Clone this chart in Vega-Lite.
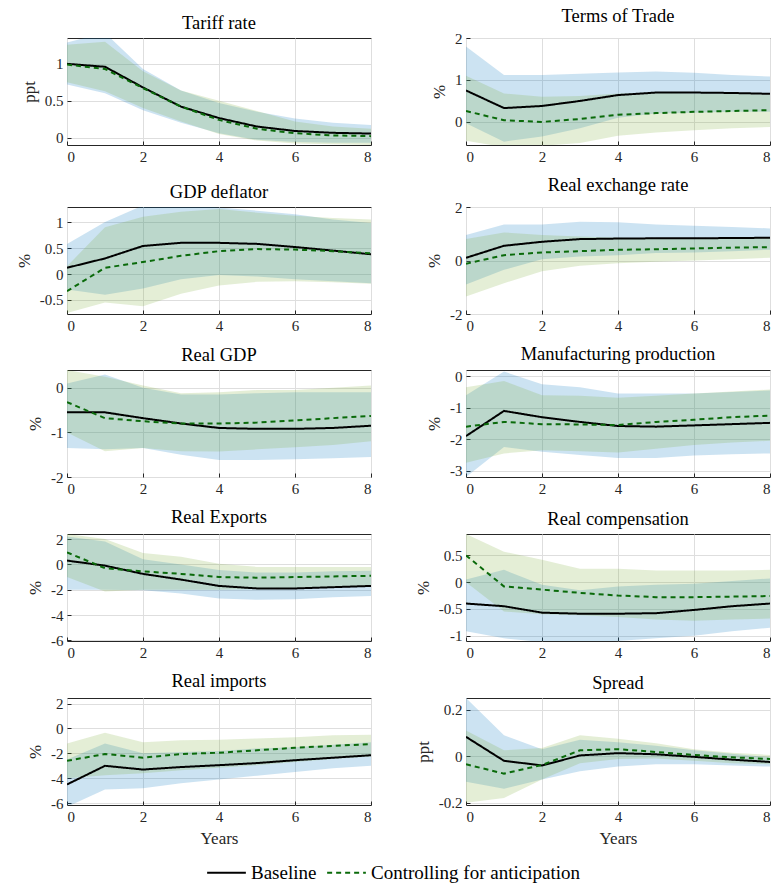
{
"$schema": "https://vega.github.io/schema/vega-lite/v6.json",
"padding": {"left": 14, "top": 6, "right": 5, "bottom": 5},
"columns": 2,
"spacing": {"row": 10, "column": 41},
"datasets": {"irf": [
{"p":"tariff","x":0,"Baseline":1.0,"Controlling for anticipation":0.99,"blo":0.72,"bhi":1.29,"glo":0.75,"ghi":1.26},
{"p":"tariff","x":1,"Baseline":0.96,"Controlling for anticipation":0.93,"blo":0.6,"bhi":1.42,"glo":0.63,"ghi":1.3},
{"p":"tariff","x":2,"Baseline":0.68,"Controlling for anticipation":0.67,"blo":0.37,"bhi":0.93,"glo":0.4,"ghi":0.9},
{"p":"tariff","x":3,"Baseline":0.42,"Controlling for anticipation":0.42,"blo":0.2,"bhi":0.64,"glo":0.22,"ghi":0.64},
{"p":"tariff","x":4,"Baseline":0.265,"Controlling for anticipation":0.24,"blo":0.06,"bhi":0.47,"glo":0.05,"ghi":0.5},
{"p":"tariff","x":5,"Baseline":0.15,"Controlling for anticipation":0.12,"blo":-0.03,"bhi":0.35,"glo":-0.04,"ghi":0.36},
{"p":"tariff","x":6,"Baseline":0.09,"Controlling for anticipation":0.06,"blo":-0.06,"bhi":0.26,"glo":-0.08,"ghi":0.22},
{"p":"tariff","x":7,"Baseline":0.065,"Controlling for anticipation":0.03,"blo":-0.07,"bhi":0.2,"glo":-0.09,"ghi":0.15},
{"p":"tariff","x":8,"Baseline":0.055,"Controlling for anticipation":0.02,"blo":-0.07,"bhi":0.17,"glo":-0.1,"ghi":0.12},
{"p":"tot","x":0,"Baseline":0.75,"Controlling for anticipation":0.26,"blo":-0.03,"bhi":1.8,"glo":-0.45,"ghi":1.1},
{"p":"tot","x":1,"Baseline":0.33,"Controlling for anticipation":0.04,"blo":-0.47,"bhi":1.12,"glo":-0.6,"ghi":0.68},
{"p":"tot","x":2,"Baseline":0.38,"Controlling for anticipation":0.0,"blo":-0.35,"bhi":1.12,"glo":-0.57,"ghi":0.6},
{"p":"tot","x":3,"Baseline":0.5,"Controlling for anticipation":0.07,"blo":-0.15,"bhi":1.15,"glo":-0.5,"ghi":0.62},
{"p":"tot","x":4,"Baseline":0.64,"Controlling for anticipation":0.17,"blo":0.1,"bhi":1.18,"glo":-0.33,"ghi":0.68},
{"p":"tot","x":5,"Baseline":0.7,"Controlling for anticipation":0.21,"blo":0.2,"bhi":1.2,"glo":-0.25,"ghi":0.7},
{"p":"tot","x":6,"Baseline":0.7,"Controlling for anticipation":0.24,"blo":0.22,"bhi":1.17,"glo":-0.2,"ghi":0.68},
{"p":"tot","x":7,"Baseline":0.69,"Controlling for anticipation":0.26,"blo":0.24,"bhi":1.12,"glo":-0.15,"ghi":0.67},
{"p":"tot","x":8,"Baseline":0.67,"Controlling for anticipation":0.28,"blo":0.24,"bhi":1.08,"glo":-0.12,"ghi":0.66},
{"p":"defl","x":0,"Baseline":0.12,"Controlling for anticipation":-0.33,"blo":-0.3,"bhi":0.58,"glo":-0.75,"ghi":0.15},
{"p":"defl","x":1,"Baseline":0.3,"Controlling for anticipation":0.12,"blo":-0.4,"bhi":1.0,"glo":-0.55,"ghi":0.9},
{"p":"defl","x":2,"Baseline":0.54,"Controlling for anticipation":0.23,"blo":-0.28,"bhi":1.32,"glo":-0.62,"ghi":1.1},
{"p":"defl","x":3,"Baseline":0.6,"Controlling for anticipation":0.35,"blo":-0.1,"bhi":1.35,"glo":-0.38,"ghi":1.2},
{"p":"defl","x":4,"Baseline":0.6,"Controlling for anticipation":0.44,"blo":-0.02,"bhi":1.28,"glo":-0.22,"ghi":1.25},
{"p":"defl","x":5,"Baseline":0.58,"Controlling for anticipation":0.48,"blo":-0.05,"bhi":1.22,"glo":-0.15,"ghi":1.18},
{"p":"defl","x":6,"Baseline":0.52,"Controlling for anticipation":0.47,"blo":-0.1,"bhi":1.15,"glo":-0.14,"ghi":1.12},
{"p":"defl","x":7,"Baseline":0.45,"Controlling for anticipation":0.44,"blo":-0.14,"bhi":1.05,"glo":-0.16,"ghi":1.08},
{"p":"defl","x":8,"Baseline":0.38,"Controlling for anticipation":0.4,"blo":-0.18,"bhi":0.98,"glo":-0.19,"ghi":1.05},
{"p":"rer","x":0,"Baseline":0.1,"Controlling for anticipation":-0.12,"blo":-0.9,"bhi":0.95,"glo":-1.35,"ghi":0.8},
{"p":"rer","x":1,"Baseline":0.55,"Controlling for anticipation":0.2,"blo":-0.35,"bhi":1.35,"glo":-0.85,"ghi":1.05},
{"p":"rer","x":2,"Baseline":0.7,"Controlling for anticipation":0.3,"blo":0.05,"bhi":1.35,"glo":-0.4,"ghi":0.95},
{"p":"rer","x":3,"Baseline":0.8,"Controlling for anticipation":0.35,"blo":0.15,"bhi":1.45,"glo":-0.2,"ghi":0.9},
{"p":"rer","x":4,"Baseline":0.82,"Controlling for anticipation":0.4,"blo":0.2,"bhi":1.43,"glo":-0.1,"ghi":0.85},
{"p":"rer","x":5,"Baseline":0.83,"Controlling for anticipation":0.42,"blo":0.28,"bhi":1.35,"glo":-0.05,"ghi":0.82},
{"p":"rer","x":6,"Baseline":0.83,"Controlling for anticipation":0.45,"blo":0.3,"bhi":1.3,"glo":0.0,"ghi":0.82},
{"p":"rer","x":7,"Baseline":0.84,"Controlling for anticipation":0.48,"blo":0.35,"bhi":1.25,"glo":0.05,"ghi":0.83},
{"p":"rer","x":8,"Baseline":0.85,"Controlling for anticipation":0.5,"blo":0.4,"bhi":1.2,"glo":0.1,"ghi":0.85},
{"p":"gdp","x":0,"Baseline":-0.55,"Controlling for anticipation":-0.32,"blo":-1.35,"bhi":0.1,"glo":-1.0,"ghi":0.4},
{"p":"gdp","x":1,"Baseline":-0.55,"Controlling for anticipation":-0.68,"blo":-1.38,"bhi":0.3,"glo":-1.42,"ghi":0.25},
{"p":"gdp","x":2,"Baseline":-0.68,"Controlling for anticipation":-0.75,"blo":-1.35,"bhi":0.0,"glo":-1.35,"ghi":0.05},
{"p":"gdp","x":3,"Baseline":-0.8,"Controlling for anticipation":-0.8,"blo":-1.5,"bhi":-0.15,"glo":-1.42,"ghi":-0.12},
{"p":"gdp","x":4,"Baseline":-0.9,"Controlling for anticipation":-0.8,"blo":-1.62,"bhi":-0.15,"glo":-1.43,"ghi":-0.1},
{"p":"gdp","x":5,"Baseline":-0.92,"Controlling for anticipation":-0.78,"blo":-1.62,"bhi":-0.12,"glo":-1.38,"ghi":-0.05},
{"p":"gdp","x":6,"Baseline":-0.92,"Controlling for anticipation":-0.73,"blo":-1.6,"bhi":-0.1,"glo":-1.33,"ghi":-0.05},
{"p":"gdp","x":7,"Baseline":-0.9,"Controlling for anticipation":-0.68,"blo":-1.58,"bhi":-0.1,"glo":-1.28,"ghi":0.0},
{"p":"gdp","x":8,"Baseline":-0.85,"Controlling for anticipation":-0.63,"blo":-1.55,"bhi":-0.1,"glo":-1.2,"ghi":0.05},
{"p":"manuf","x":0,"Baseline":-1.9,"Controlling for anticipation":-1.6,"blo":-3.2,"bhi":-0.6,"glo":-2.75,"ghi":-0.35},
{"p":"manuf","x":1,"Baseline":-1.1,"Controlling for anticipation":-1.45,"blo":-2.25,"bhi":0.15,"glo":-2.45,"ghi":-0.15},
{"p":"manuf","x":2,"Baseline":-1.3,"Controlling for anticipation":-1.52,"blo":-2.4,"bhi":-0.25,"glo":-2.35,"ghi":-0.6},
{"p":"manuf","x":3,"Baseline":-1.45,"Controlling for anticipation":-1.53,"blo":-2.5,"bhi":-0.35,"glo":-2.38,"ghi":-0.62},
{"p":"manuf","x":4,"Baseline":-1.58,"Controlling for anticipation":-1.55,"blo":-2.6,"bhi":-0.55,"glo":-2.42,"ghi":-0.68},
{"p":"manuf","x":5,"Baseline":-1.6,"Controlling for anticipation":-1.45,"blo":-2.6,"bhi":-0.55,"glo":-2.3,"ghi":-0.62},
{"p":"manuf","x":6,"Baseline":-1.56,"Controlling for anticipation":-1.38,"blo":-2.52,"bhi":-0.55,"glo":-2.18,"ghi":-0.55},
{"p":"manuf","x":7,"Baseline":-1.52,"Controlling for anticipation":-1.3,"blo":-2.48,"bhi":-0.5,"glo":-2.1,"ghi":-0.48},
{"p":"manuf","x":8,"Baseline":-1.48,"Controlling for anticipation":-1.25,"blo":-2.45,"bhi":-0.45,"glo":-2.05,"ghi":-0.42},
{"p":"exports","x":0,"Baseline":0.3,"Controlling for anticipation":0.95,"blo":-2.0,"bhi":2.2,"glo":-1.0,"ghi":2.4},
{"p":"exports","x":1,"Baseline":-0.1,"Controlling for anticipation":-0.3,"blo":-2.0,"bhi":1.8,"glo":-2.15,"ghi":2.0},
{"p":"exports","x":2,"Baseline":-0.75,"Controlling for anticipation":-0.55,"blo":-2.05,"bhi":0.4,"glo":-2.0,"ghi":0.9},
{"p":"exports","x":3,"Baseline":-1.2,"Controlling for anticipation":-0.75,"blo":-2.3,"bhi":0.0,"glo":-2.0,"ghi":0.6},
{"p":"exports","x":4,"Baseline":-1.7,"Controlling for anticipation":-1.0,"blo":-2.7,"bhi":-0.45,"glo":-2.0,"ghi":0.05},
{"p":"exports","x":5,"Baseline":-1.9,"Controlling for anticipation":-1.05,"blo":-2.8,"bhi":-0.65,"glo":-1.95,"ghi":-0.2},
{"p":"exports","x":6,"Baseline":-1.9,"Controlling for anticipation":-1.0,"blo":-2.75,"bhi":-0.65,"glo":-1.9,"ghi":-0.2},
{"p":"exports","x":7,"Baseline":-1.8,"Controlling for anticipation":-0.95,"blo":-2.6,"bhi":-0.55,"glo":-1.8,"ghi":-0.2},
{"p":"exports","x":8,"Baseline":-1.7,"Controlling for anticipation":-0.9,"blo":-2.5,"bhi":-0.5,"glo":-1.7,"ghi":-0.2},
{"p":"comp","x":0,"Baseline":-0.4,"Controlling for anticipation":0.5,"blo":-0.92,"bhi":0.05,"glo":0.0,"ghi":0.9},
{"p":"comp","x":1,"Baseline":-0.45,"Controlling for anticipation":-0.08,"blo":-1.05,"bhi":0.23,"glo":-0.55,"ghi":0.57},
{"p":"comp","x":2,"Baseline":-0.57,"Controlling for anticipation":-0.14,"blo":-1.12,"bhi":-0.05,"glo":-0.6,"ghi":0.42},
{"p":"comp","x":3,"Baseline":-0.59,"Controlling for anticipation":-0.2,"blo":-1.12,"bhi":-0.15,"glo":-0.62,"ghi":0.25},
{"p":"comp","x":4,"Baseline":-0.59,"Controlling for anticipation":-0.25,"blo":-1.1,"bhi":-0.08,"glo":-0.65,"ghi":0.25},
{"p":"comp","x":5,"Baseline":-0.58,"Controlling for anticipation":-0.28,"blo":-1.05,"bhi":-0.05,"glo":-0.7,"ghi":0.22},
{"p":"comp","x":6,"Baseline":-0.52,"Controlling for anticipation":-0.28,"blo":-1.0,"bhi":-0.03,"glo":-0.72,"ghi":0.22},
{"p":"comp","x":7,"Baseline":-0.45,"Controlling for anticipation":-0.27,"blo":-0.92,"bhi":0.02,"glo":-0.7,"ghi":0.22},
{"p":"comp","x":8,"Baseline":-0.4,"Controlling for anticipation":-0.26,"blo":-0.85,"bhi":0.07,"glo":-0.68,"ghi":0.23},
{"p":"imports","x":0,"Baseline":-4.5,"Controlling for anticipation":-2.6,"blo":-6.3,"bhi":-2.5,"glo":-4.0,"ghi":-1.2},
{"p":"imports","x":1,"Baseline":-3.0,"Controlling for anticipation":-2.05,"blo":-4.9,"bhi":-1.2,"glo":-3.75,"ghi":-0.35},
{"p":"imports","x":2,"Baseline":-3.3,"Controlling for anticipation":-2.35,"blo":-4.8,"bhi":-2.0,"glo":-3.6,"ghi":-1.1},
{"p":"imports","x":3,"Baseline":-3.1,"Controlling for anticipation":-2.05,"blo":-4.4,"bhi":-1.9,"glo":-3.35,"ghi":-0.95},
{"p":"imports","x":4,"Baseline":-2.95,"Controlling for anticipation":-1.95,"blo":-4.1,"bhi":-1.8,"glo":-3.15,"ghi":-0.9},
{"p":"imports","x":5,"Baseline":-2.78,"Controlling for anticipation":-1.75,"blo":-3.8,"bhi":-1.6,"glo":-2.95,"ghi":-0.8},
{"p":"imports","x":6,"Baseline":-2.55,"Controlling for anticipation":-1.55,"blo":-3.5,"bhi":-1.5,"glo":-2.7,"ghi":-0.7},
{"p":"imports","x":7,"Baseline":-2.35,"Controlling for anticipation":-1.4,"blo":-3.2,"bhi":-1.3,"glo":-2.45,"ghi":-0.55},
{"p":"imports","x":8,"Baseline":-2.15,"Controlling for anticipation":-1.25,"blo":-3.0,"bhi":-1.1,"glo":-2.25,"ghi":-0.5},
{"p":"spread","x":0,"Baseline":0.083,"Controlling for anticipation":-0.035,"blo":-0.11,"bhi":0.25,"glo":-0.2,"ghi":0.11},
{"p":"spread","x":1,"Baseline":-0.02,"Controlling for anticipation":-0.075,"blo":-0.14,"bhi":0.09,"glo":-0.18,"ghi":0.025},
{"p":"spread","x":2,"Baseline":-0.04,"Controlling for anticipation":-0.038,"blo":-0.1,"bhi":0.03,"glo":-0.1,"ghi":0.035},
{"p":"spread","x":3,"Baseline":0.003,"Controlling for anticipation":0.025,"blo":-0.065,"bhi":0.07,"glo":-0.03,"ghi":0.09},
{"p":"spread","x":4,"Baseline":0.013,"Controlling for anticipation":0.03,"blo":-0.045,"bhi":0.06,"glo":-0.012,"ghi":0.075},
{"p":"spread","x":5,"Baseline":0.008,"Controlling for anticipation":0.018,"blo":-0.035,"bhi":0.045,"glo":-0.01,"ghi":0.055},
{"p":"spread","x":6,"Baseline":-0.003,"Controlling for anticipation":0.005,"blo":-0.035,"bhi":0.025,"glo":-0.02,"ghi":0.03},
{"p":"spread","x":7,"Baseline":-0.015,"Controlling for anticipation":-0.005,"blo":-0.04,"bhi":0.01,"glo":-0.03,"ghi":0.015},
{"p":"spread","x":8,"Baseline":-0.025,"Controlling for anticipation":-0.012,"blo":-0.045,"bhi":-0.005,"glo":-0.035,"ghi":0.005}
]},
"concat": [
{"title":"Tariff rate","width":304,"height":107,"data":{"name":"irf"},"transform":[{"filter":"datum.p == 'tariff'"}],
 "encoding":{"x":{"field":"x","type":"quantitative","scale":{"domain":[0,8]},"axis":{"values":[0,2,4,6,8],"title":null}}},
 "layer":[
  {"mark":{"type":"area","color":"#0072bd","opacity":0.2,"clip":true},"encoding":{"y":{"field":"blo","type":"quantitative","scale":{"domain":[-0.1,1.35],"nice":false,"zero":false},"axis":{"values":[0,0.5,1],"title":"ppt"}},"y2":{"field":"bhi"}}},
  {"mark":{"type":"area","color":"#77ac30","opacity":0.2,"clip":true},"encoding":{"y":{"field":"glo","type":"quantitative","scale":{"domain":[-0.1,1.35],"nice":false,"zero":false},"axis":{"values":[0,0.5,1],"title":"ppt"}},"y2":{"field":"ghi"}}},
  {"mark":{"type":"rule","color":"#000","strokeWidth":1},"encoding":{"y":{"datum":0,"type":"quantitative","scale":{"domain":[-0.1,1.35],"nice":false,"zero":false},"axis":{"values":[0,0.5,1],"title":"ppt"}}}},
  {"transform":[{"fold":["Baseline","Controlling for anticipation"],"as":["series","val"]}],"mark":{"type":"line","strokeWidth":2,"clip":true},"encoding":{"y":{"field":"val","type":"quantitative","scale":{"domain":[-0.1,1.35],"nice":false,"zero":false},"axis":{"values":[0,0.5,1],"title":"ppt"}},
   "color":{"field":"series","type":"nominal","scale":{"domain":["Baseline","Controlling for anticipation"],"range":["#000000","#0a6a0a"]},"legend":{"title":null,"orient":"none","legendX":139,"legendY":814,"direction":"horizontal","symbolType":"stroke","symbolSize":1500,"symbolStrokeWidth":2,"labelFontSize":19,"labelFont":"Liberation Serif","labelLimit":500,"labelColor":"#000","columnPadding":6,"labelOffset":4}},
   "strokeDash":{"field":"series","type":"nominal","scale":{"domain":["Baseline","Controlling for anticipation"],"range":[[1,0],[5,4]]},"legend":{"title":null,"orient":"none","legendX":139,"legendY":814,"direction":"horizontal","symbolType":"stroke","symbolSize":1500,"symbolStrokeWidth":2,"labelFontSize":19,"labelFont":"Liberation Serif","labelLimit":500,"labelColor":"#000","columnPadding":6,"labelOffset":4}}}}
 ]},
{"title":"Terms of Trade","width":304,"height":107,"data":{"name":"irf"},"transform":[{"filter":"datum.p == 'tot'"}],
 "encoding":{"x":{"field":"x","type":"quantitative","scale":{"domain":[0,8]},"axis":{"values":[0,2,4,6,8],"title":null}}},
 "layer":[
  {"mark":{"type":"area","color":"#0072bd","opacity":0.2,"clip":true},"encoding":{"y":{"field":"blo","type":"quantitative","scale":{"domain":[-0.55,2],"nice":false,"zero":false},"axis":{"values":[0,1,2],"title":"%"}},"y2":{"field":"bhi"}}},
  {"mark":{"type":"area","color":"#77ac30","opacity":0.2,"clip":true},"encoding":{"y":{"field":"glo","type":"quantitative","scale":{"domain":[-0.55,2],"nice":false,"zero":false},"axis":{"values":[0,1,2],"title":"%"}},"y2":{"field":"ghi"}}},
  {"mark":{"type":"rule","color":"#000","strokeWidth":1},"encoding":{"y":{"datum":0,"type":"quantitative","scale":{"domain":[-0.55,2],"nice":false,"zero":false},"axis":{"values":[0,1,2],"title":"%"}}}},
  {"transform":[{"fold":["Baseline","Controlling for anticipation"],"as":["series","val"]}],"mark":{"type":"line","strokeWidth":2,"clip":true},"encoding":{"y":{"field":"val","type":"quantitative","scale":{"domain":[-0.55,2],"nice":false,"zero":false},"axis":{"values":[0,1,2],"title":"%"}},
   "color":{"field":"series","type":"nominal","scale":{"domain":["Baseline","Controlling for anticipation"],"range":["#000000","#0a6a0a"]}},
   "strokeDash":{"field":"series","type":"nominal","scale":{"domain":["Baseline","Controlling for anticipation"],"range":[[1,0],[5,4]]}}}}
 ]},
{"title":"GDP deflator","width":304,"height":107,"data":{"name":"irf"},"transform":[{"filter":"datum.p == 'defl'"}],
 "encoding":{"x":{"field":"x","type":"quantitative","scale":{"domain":[0,8]},"axis":{"values":[0,2,4,6,8],"title":null}}},
 "layer":[
  {"mark":{"type":"area","color":"#0072bd","opacity":0.2,"clip":true},"encoding":{"y":{"field":"blo","type":"quantitative","scale":{"domain":[-0.77,1.29],"nice":false,"zero":false},"axis":{"values":[-0.5,0,0.5,1],"title":"%"}},"y2":{"field":"bhi"}}},
  {"mark":{"type":"area","color":"#77ac30","opacity":0.2,"clip":true},"encoding":{"y":{"field":"glo","type":"quantitative","scale":{"domain":[-0.77,1.29],"nice":false,"zero":false},"axis":{"values":[-0.5,0,0.5,1],"title":"%"}},"y2":{"field":"ghi"}}},
  {"mark":{"type":"rule","color":"#000","strokeWidth":1},"encoding":{"y":{"datum":0,"type":"quantitative","scale":{"domain":[-0.77,1.29],"nice":false,"zero":false},"axis":{"values":[-0.5,0,0.5,1],"title":"%"}}}},
  {"transform":[{"fold":["Baseline","Controlling for anticipation"],"as":["series","val"]}],"mark":{"type":"line","strokeWidth":2,"clip":true},"encoding":{"y":{"field":"val","type":"quantitative","scale":{"domain":[-0.77,1.29],"nice":false,"zero":false},"axis":{"values":[-0.5,0,0.5,1],"title":"%"}},
   "color":{"field":"series","type":"nominal","scale":{"domain":["Baseline","Controlling for anticipation"],"range":["#000000","#0a6a0a"]}},
   "strokeDash":{"field":"series","type":"nominal","scale":{"domain":["Baseline","Controlling for anticipation"],"range":[[1,0],[5,4]]}}}}
 ]},
{"title":"Real exchange rate","width":304,"height":107,"data":{"name":"irf"},"transform":[{"filter":"datum.p == 'rer'"}],
 "encoding":{"x":{"field":"x","type":"quantitative","scale":{"domain":[0,8]},"axis":{"values":[0,2,4,6,8],"title":null}}},
 "layer":[
  {"mark":{"type":"area","color":"#0072bd","opacity":0.2,"clip":true},"encoding":{"y":{"field":"blo","type":"quantitative","scale":{"domain":[-2,2],"nice":false,"zero":false},"axis":{"values":[-2,0,2],"title":"%"}},"y2":{"field":"bhi"}}},
  {"mark":{"type":"area","color":"#77ac30","opacity":0.2,"clip":true},"encoding":{"y":{"field":"glo","type":"quantitative","scale":{"domain":[-2,2],"nice":false,"zero":false},"axis":{"values":[-2,0,2],"title":"%"}},"y2":{"field":"ghi"}}},
  {"mark":{"type":"rule","color":"#000","strokeWidth":1},"encoding":{"y":{"datum":0,"type":"quantitative","scale":{"domain":[-2,2],"nice":false,"zero":false},"axis":{"values":[-2,0,2],"title":"%"}}}},
  {"transform":[{"fold":["Baseline","Controlling for anticipation"],"as":["series","val"]}],"mark":{"type":"line","strokeWidth":2,"clip":true},"encoding":{"y":{"field":"val","type":"quantitative","scale":{"domain":[-2,2],"nice":false,"zero":false},"axis":{"values":[-2,0,2],"title":"%"}},
   "color":{"field":"series","type":"nominal","scale":{"domain":["Baseline","Controlling for anticipation"],"range":["#000000","#0a6a0a"]}},
   "strokeDash":{"field":"series","type":"nominal","scale":{"domain":["Baseline","Controlling for anticipation"],"range":[[1,0],[5,4]]}}}}
 ]},
{"title":"Real GDP","width":304,"height":107,"data":{"name":"irf"},"transform":[{"filter":"datum.p == 'gdp'"}],
 "encoding":{"x":{"field":"x","type":"quantitative","scale":{"domain":[0,8]},"axis":{"values":[0,2,4,6,8],"title":null}}},
 "layer":[
  {"mark":{"type":"area","color":"#0072bd","opacity":0.2,"clip":true},"encoding":{"y":{"field":"blo","type":"quantitative","scale":{"domain":[-2,0.4],"nice":false,"zero":false},"axis":{"values":[-2,-1,0],"title":"%"}},"y2":{"field":"bhi"}}},
  {"mark":{"type":"area","color":"#77ac30","opacity":0.2,"clip":true},"encoding":{"y":{"field":"glo","type":"quantitative","scale":{"domain":[-2,0.4],"nice":false,"zero":false},"axis":{"values":[-2,-1,0],"title":"%"}},"y2":{"field":"ghi"}}},
  {"mark":{"type":"rule","color":"#000","strokeWidth":1},"encoding":{"y":{"datum":0,"type":"quantitative","scale":{"domain":[-2,0.4],"nice":false,"zero":false},"axis":{"values":[-2,-1,0],"title":"%"}}}},
  {"transform":[{"fold":["Baseline","Controlling for anticipation"],"as":["series","val"]}],"mark":{"type":"line","strokeWidth":2,"clip":true},"encoding":{"y":{"field":"val","type":"quantitative","scale":{"domain":[-2,0.4],"nice":false,"zero":false},"axis":{"values":[-2,-1,0],"title":"%"}},
   "color":{"field":"series","type":"nominal","scale":{"domain":["Baseline","Controlling for anticipation"],"range":["#000000","#0a6a0a"]}},
   "strokeDash":{"field":"series","type":"nominal","scale":{"domain":["Baseline","Controlling for anticipation"],"range":[[1,0],[5,4]]}}}}
 ]},
{"title":"Manufacturing production","width":304,"height":107,"data":{"name":"irf"},"transform":[{"filter":"datum.p == 'manuf'"}],
 "encoding":{"x":{"field":"x","type":"quantitative","scale":{"domain":[0,8]},"axis":{"values":[0,2,4,6,8],"title":null}}},
 "layer":[
  {"mark":{"type":"area","color":"#0072bd","opacity":0.2,"clip":true},"encoding":{"y":{"field":"blo","type":"quantitative","scale":{"domain":[-3.2,0.2],"nice":false,"zero":false},"axis":{"values":[-3,-2,-1,0],"title":"%"}},"y2":{"field":"bhi"}}},
  {"mark":{"type":"area","color":"#77ac30","opacity":0.2,"clip":true},"encoding":{"y":{"field":"glo","type":"quantitative","scale":{"domain":[-3.2,0.2],"nice":false,"zero":false},"axis":{"values":[-3,-2,-1,0],"title":"%"}},"y2":{"field":"ghi"}}},
  {"mark":{"type":"rule","color":"#000","strokeWidth":1},"encoding":{"y":{"datum":0,"type":"quantitative","scale":{"domain":[-3.2,0.2],"nice":false,"zero":false},"axis":{"values":[-3,-2,-1,0],"title":"%"}}}},
  {"transform":[{"fold":["Baseline","Controlling for anticipation"],"as":["series","val"]}],"mark":{"type":"line","strokeWidth":2,"clip":true},"encoding":{"y":{"field":"val","type":"quantitative","scale":{"domain":[-3.2,0.2],"nice":false,"zero":false},"axis":{"values":[-3,-2,-1,0],"title":"%"}},
   "color":{"field":"series","type":"nominal","scale":{"domain":["Baseline","Controlling for anticipation"],"range":["#000000","#0a6a0a"]}},
   "strokeDash":{"field":"series","type":"nominal","scale":{"domain":["Baseline","Controlling for anticipation"],"range":[[1,0],[5,4]]}}}}
 ]},
{"title":"Real Exports","width":304,"height":107,"data":{"name":"irf"},"transform":[{"filter":"datum.p == 'exports'"}],
 "encoding":{"x":{"field":"x","type":"quantitative","scale":{"domain":[0,8]},"axis":{"values":[0,2,4,6,8],"title":null}}},
 "layer":[
  {"mark":{"type":"area","color":"#0072bd","opacity":0.2,"clip":true},"encoding":{"y":{"field":"blo","type":"quantitative","scale":{"domain":[-6.05,2.4],"nice":false,"zero":false},"axis":{"values":[-6,-4,-2,0,2],"title":"%"}},"y2":{"field":"bhi"}}},
  {"mark":{"type":"area","color":"#77ac30","opacity":0.2,"clip":true},"encoding":{"y":{"field":"glo","type":"quantitative","scale":{"domain":[-6.05,2.4],"nice":false,"zero":false},"axis":{"values":[-6,-4,-2,0,2],"title":"%"}},"y2":{"field":"ghi"}}},
  {"mark":{"type":"rule","color":"#000","strokeWidth":1},"encoding":{"y":{"datum":0,"type":"quantitative","scale":{"domain":[-6.05,2.4],"nice":false,"zero":false},"axis":{"values":[-6,-4,-2,0,2],"title":"%"}}}},
  {"transform":[{"fold":["Baseline","Controlling for anticipation"],"as":["series","val"]}],"mark":{"type":"line","strokeWidth":2,"clip":true},"encoding":{"y":{"field":"val","type":"quantitative","scale":{"domain":[-6.05,2.4],"nice":false,"zero":false},"axis":{"values":[-6,-4,-2,0,2],"title":"%"}},
   "color":{"field":"series","type":"nominal","scale":{"domain":["Baseline","Controlling for anticipation"],"range":["#000000","#0a6a0a"]}},
   "strokeDash":{"field":"series","type":"nominal","scale":{"domain":["Baseline","Controlling for anticipation"],"range":[[1,0],[5,4]]}}}}
 ]},
{"title":"Real compensation","width":304,"height":107,"data":{"name":"irf"},"transform":[{"filter":"datum.p == 'comp'"}],
 "encoding":{"x":{"field":"x","type":"quantitative","scale":{"domain":[0,8]},"axis":{"values":[0,2,4,6,8],"title":null}}},
 "layer":[
  {"mark":{"type":"area","color":"#0072bd","opacity":0.2,"clip":true},"encoding":{"y":{"field":"blo","type":"quantitative","scale":{"domain":[-1.1,0.9],"nice":false,"zero":false},"axis":{"values":[-1,-0.5,0,0.5],"title":"%"}},"y2":{"field":"bhi"}}},
  {"mark":{"type":"area","color":"#77ac30","opacity":0.2,"clip":true},"encoding":{"y":{"field":"glo","type":"quantitative","scale":{"domain":[-1.1,0.9],"nice":false,"zero":false},"axis":{"values":[-1,-0.5,0,0.5],"title":"%"}},"y2":{"field":"ghi"}}},
  {"mark":{"type":"rule","color":"#000","strokeWidth":1},"encoding":{"y":{"datum":0,"type":"quantitative","scale":{"domain":[-1.1,0.9],"nice":false,"zero":false},"axis":{"values":[-1,-0.5,0,0.5],"title":"%"}}}},
  {"transform":[{"fold":["Baseline","Controlling for anticipation"],"as":["series","val"]}],"mark":{"type":"line","strokeWidth":2,"clip":true},"encoding":{"y":{"field":"val","type":"quantitative","scale":{"domain":[-1.1,0.9],"nice":false,"zero":false},"axis":{"values":[-1,-0.5,0,0.5],"title":"%"}},
   "color":{"field":"series","type":"nominal","scale":{"domain":["Baseline","Controlling for anticipation"],"range":["#000000","#0a6a0a"]}},
   "strokeDash":{"field":"series","type":"nominal","scale":{"domain":["Baseline","Controlling for anticipation"],"range":[[1,0],[5,4]]}}}}
 ]},
{"title":"Real imports","width":304,"height":107,"data":{"name":"irf"},"transform":[{"filter":"datum.p == 'imports'"}],
 "encoding":{"x":{"field":"x","type":"quantitative","scale":{"domain":[0,8]},"axis":{"values":[0,2,4,6,8],"title":"Years"}}},
 "layer":[
  {"mark":{"type":"area","color":"#0072bd","opacity":0.2,"clip":true},"encoding":{"y":{"field":"blo","type":"quantitative","scale":{"domain":[-6.15,2.45],"nice":false,"zero":false},"axis":{"values":[-6,-4,-2,0,2],"title":"%"}},"y2":{"field":"bhi"}}},
  {"mark":{"type":"area","color":"#77ac30","opacity":0.2,"clip":true},"encoding":{"y":{"field":"glo","type":"quantitative","scale":{"domain":[-6.15,2.45],"nice":false,"zero":false},"axis":{"values":[-6,-4,-2,0,2],"title":"%"}},"y2":{"field":"ghi"}}},
  {"mark":{"type":"rule","color":"#000","strokeWidth":1},"encoding":{"y":{"datum":0,"type":"quantitative","scale":{"domain":[-6.15,2.45],"nice":false,"zero":false},"axis":{"values":[-6,-4,-2,0,2],"title":"%"}}}},
  {"transform":[{"fold":["Baseline","Controlling for anticipation"],"as":["series","val"]}],"mark":{"type":"line","strokeWidth":2,"clip":true},"encoding":{"y":{"field":"val","type":"quantitative","scale":{"domain":[-6.15,2.45],"nice":false,"zero":false},"axis":{"values":[-6,-4,-2,0,2],"title":"%"}},
   "color":{"field":"series","type":"nominal","scale":{"domain":["Baseline","Controlling for anticipation"],"range":["#000000","#0a6a0a"]}},
   "strokeDash":{"field":"series","type":"nominal","scale":{"domain":["Baseline","Controlling for anticipation"],"range":[[1,0],[5,4]]}}}}
 ]},
{"title":"Spread","width":304,"height":107,"data":{"name":"irf"},"transform":[{"filter":"datum.p == 'spread'"}],
 "encoding":{"x":{"field":"x","type":"quantitative","scale":{"domain":[0,8]},"axis":{"values":[0,2,4,6,8],"title":"Years"}}},
 "layer":[
  {"mark":{"type":"area","color":"#0072bd","opacity":0.2,"clip":true},"encoding":{"y":{"field":"blo","type":"quantitative","scale":{"domain":[-0.21,0.25],"nice":false,"zero":false},"axis":{"values":[-0.2,0,0.2],"title":"ppt"}},"y2":{"field":"bhi"}}},
  {"mark":{"type":"area","color":"#77ac30","opacity":0.2,"clip":true},"encoding":{"y":{"field":"glo","type":"quantitative","scale":{"domain":[-0.21,0.25],"nice":false,"zero":false},"axis":{"values":[-0.2,0,0.2],"title":"ppt"}},"y2":{"field":"ghi"}}},
  {"mark":{"type":"rule","color":"#000","strokeWidth":1},"encoding":{"y":{"datum":0,"type":"quantitative","scale":{"domain":[-0.21,0.25],"nice":false,"zero":false},"axis":{"values":[-0.2,0,0.2],"title":"ppt"}}}},
  {"transform":[{"fold":["Baseline","Controlling for anticipation"],"as":["series","val"]}],"mark":{"type":"line","strokeWidth":2,"clip":true},"encoding":{"y":{"field":"val","type":"quantitative","scale":{"domain":[-0.21,0.25],"nice":false,"zero":false},"axis":{"values":[-0.2,0,0.2],"title":"ppt"}},
   "color":{"field":"series","type":"nominal","scale":{"domain":["Baseline","Controlling for anticipation"],"range":["#000000","#0a6a0a"]}},
   "strokeDash":{"field":"series","type":"nominal","scale":{"domain":["Baseline","Controlling for anticipation"],"range":[[1,0],[5,4]]}}}}
 ]}
],
"config": {
 "font": "Liberation Serif",
 "view": {"stroke": "#262626", "strokeWidth": 1},
 "title": {"font": "Liberation Serif", "fontSize": 18.5, "fontWeight": "normal", "color": "#000000", "offset": 6, "anchor": "middle"},
 "style": {"guide-label": {"font": "Liberation Serif"}, "guide-title": {"font": "Liberation Serif"}},
 "axis": {"labelFont": "Liberation Serif", "titleFont": "Liberation Serif", "labelFontSize": 15, "labelColor": "#262626", "titleFontSize": 17, "titleFontWeight": "normal", "titleColor": "#262626", "gridColor": "#dedede", "domain": false, "tickColor": "#262626", "tickSize": -4, "labelPadding": 8, "labelExpr": "toString(datum.value)", "titlePadding": 6},
 "legend": {"labelFont": "Liberation Serif"}
}
}
